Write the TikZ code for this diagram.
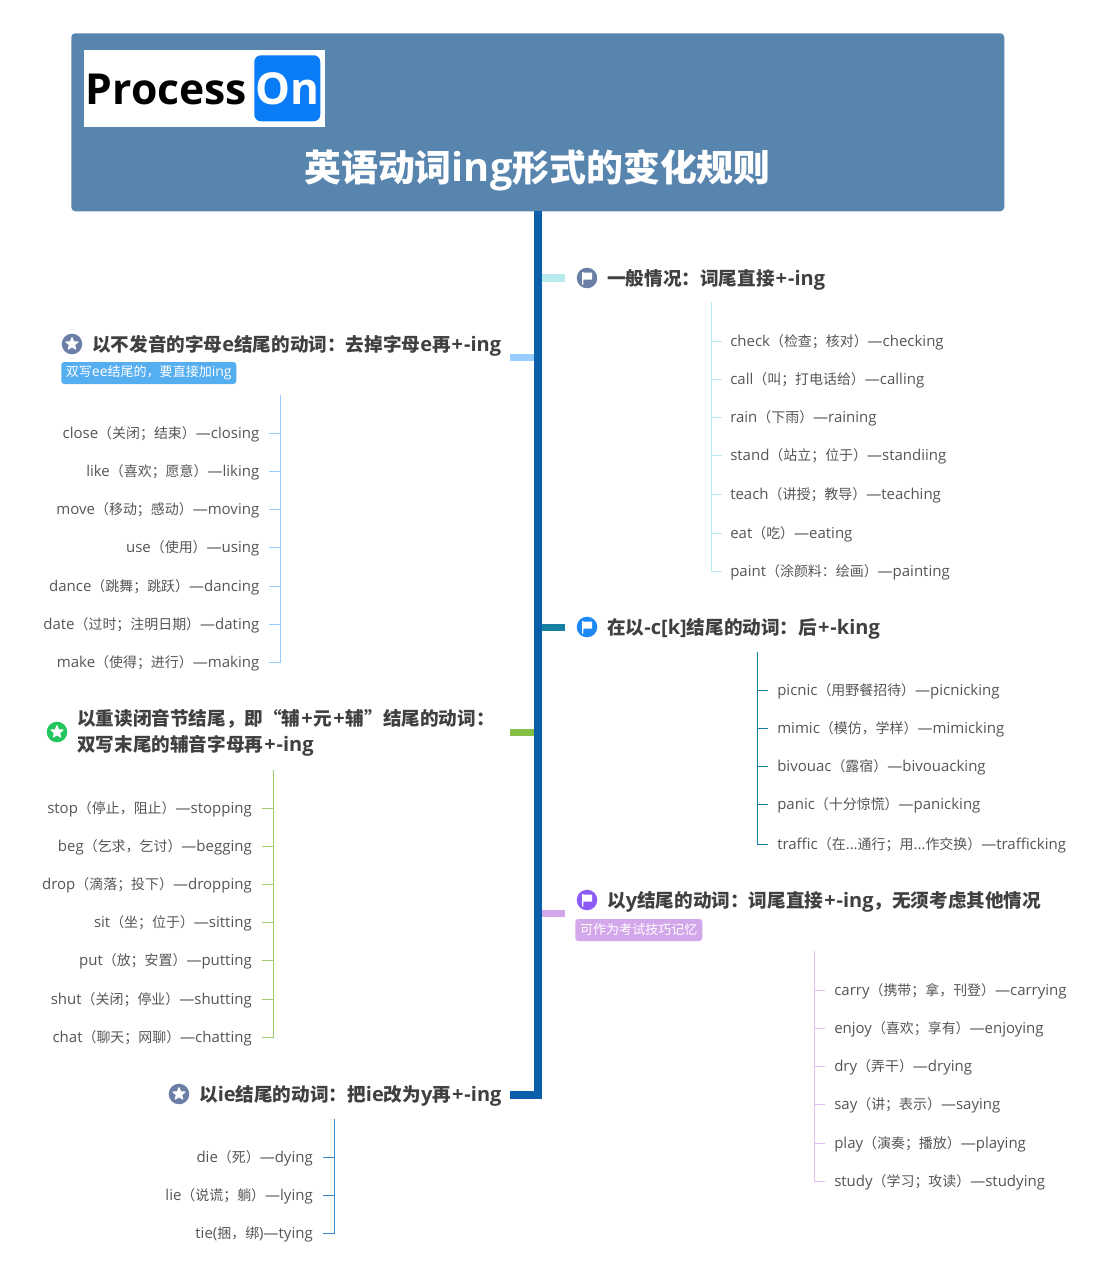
\documentclass[tikz,border=0pt]{standalone}
\usepackage{fontspec}
\usetikzlibrary{shapes.geometric}
\setmainfont{Open Sans}
\newfontfamily\cjkfont[Scale=0.93]{Noto Sans CJK SC}
\newcommand{\Z}[1]{{\cjkfont #1}}
\newcommand{\Pl}{\kern0.75pt+\kern0.75pt}
\definecolor{headblue}{HTML}{5785AE}
\definecolor{trunkblue}{HTML}{0B5EAA}
\definecolor{logoblue}{HTML}{0A7CF5}
\definecolor{cCyan}{HTML}{B8EBEE}
\definecolor{cTeal}{HTML}{1580A0}
\definecolor{cPurple}{HTML}{D3A8EA}
\definecolor{cPurpleL}{HTML}{E3BEF7}
\definecolor{cSky}{HTML}{99CCFF}
\definecolor{cGreen}{HTML}{86BF46}
\definecolor{cGreenL}{HTML}{A0CE6C}
\definecolor{cLeafBlue}{HTML}{3D8BCB}
\definecolor{cTagBlue}{HTML}{55AEF0}
\definecolor{iconSlate}{HTML}{6B7FA6}
\definecolor{iconBlue}{HTML}{1E88F5}
\definecolor{iconViolet}{HTML}{8B5CF6}
\definecolor{iconGreen}{HTML}{22C55E}
\definecolor{topicText}{HTML}{404040}
\definecolor{leafText}{HTML}{555555}
\tikzset{
  topic/.style={inner sep=0pt,anchor=west,text=topicText,font=\fontsize{15pt}{19.5pt}\selectfont\bfseries,align=left},
  leafbase/.style={inner sep=0pt,text=leafText,font=\fontsize{11.25pt}{14pt}\selectfont,text height=10.8pt,text depth=2pt},
  leafR/.style={leafbase,anchor=west},
  leafL/.style={leafbase,anchor=east},
  tag/.style={inner sep=0pt,rounded corners=2.2pt,text=white,font=\fontsize{10.5pt}{13pt}\selectfont,anchor=west,minimum height=16.5pt,align=center},
  icon/.style={circle,inner sep=0pt,minimum size=15.4pt},
  stub/.style={line width=5.5pt},
  brk/.style={line width=0.7pt},
  whitestar/.style={star,star points=5,star point ratio=2.3,fill=white,draw=white,line width=0.8pt,line join=round,inner sep=0pt,minimum size=9.5pt}
}
\newcommand{\flagicon}[4]{%
  \node[icon,fill=#4] (#1) at (#2,#3) {};
  \fill[white] ([shift={(-5,-6)}]#1.center) -- ++(1.3,0) -- ++(0,0.6) -- ++(8.7,0) -- ++(0,7) -- ++(-8.7,0) -- ++(0,4.9) -- ++(-1.3,0) -- cycle;
}
\newcommand{\staricon}[4]{%
  \node[icon,fill=#4] (#1) at (#2,#3) {};
  \node[whitestar] (#1s) at (#1.center) {};
}
\newcommand{\rleaf}[4]{%
  \node[leafR] (#1) at (#2,#3) {#4};
}
\newcommand{\lleaf}[4]{%
  \node[leafL] (#1) at (#2,#3) {#4};
}
\begin{document}
\begin{tikzpicture}[x=0.75pt,y=-0.75pt]
\useasboundingbox (0,0) rectangle (1108,1280);
\node[fill=headblue,rounded corners=3pt,minimum width=699.75pt,minimum height=133.5pt,inner sep=0pt,anchor=north west] (head) at (71,33) {};
\node[fill=white,minimum width=180.75pt,minimum height=57.75pt,inner sep=0pt,anchor=north west] (logo) at (84,50) {};
\node[fill=logoblue,rounded corners=5pt,minimum width=49.5pt,minimum height=49.5pt,inner sep=0pt,anchor=north west] (logoOn) at (254,55) {};
\node[inner sep=0pt,font=\fontsize{32pt}{32pt}\selectfont\bfseries,text=black,anchor=base west] (proc) at (85.5,105) {Process};
\node[inner sep=0pt,font=\fontsize{33pt}{33pt}\selectfont\bfseries,text=white,anchor=base] (on) at (287.5,105) {On};
\node[inner sep=0pt,font=\fontsize{29.75pt}{30pt}\selectfont\bfseries,text=white,anchor=base] (title) at (537.5,182) {\Z{英语动词}ing\Z{形式的变化规则}};
\coordinate (tTop) at (538,211);
\coordinate (tBot) at (538,1095);
\coordinate (e1) at (565,278);
\coordinate (e2) at (565,627.5);
\coordinate (e3) at (565,913.5);
\coordinate (e4) at (510,357.5);
\coordinate (e5) at (510,732.5);
\coordinate (e6) at (510,1095);
\draw[stub,cCyan] (tTop |- e1) -- (e1);
\draw[stub,cTeal] (tTop |- e2) -- (e2);
\draw[stub,cPurple] (tTop |- e3) -- (e3);
\draw[stub,cSky] (tTop |- e4) -- (e4);
\draw[stub,cGreen] (tTop |- e5) -- (e5);
\draw[line width=6pt,trunkblue,line join=miter] (tTop) -- (tBot) -- (e6);
\flagicon{i1}{587}{278}{iconSlate}
\node[topic] (t1) at (607,279.5) {\Z{一般情况：词尾直接}\Pl-ing};
\flagicon{i2}{587}{627}{iconBlue}
\node[topic] (t2) at (607,628.5) {\Z{在以}-c[k]\Z{结尾的动词：后}\Pl-king};
\flagicon{i3}{587}{900}{iconViolet}
\node[topic] (t3) at (607,901.5) {\Z{以}y\Z{结尾的动词：词尾直接}\Pl-ing\Z{，无须考虑其他情况}};
\node[tag,fill=cPurple,minimum width=95.25pt] (g3) at (575,930) {\Z{可作为考试技巧记忆}};
\staricon{i4}{72}{344}{iconSlate}
\node[topic] (t4) at (92,345.5) {\Z{以不发音的字母}e\Z{结尾的动词：去掉字母}e\Z{再}\Pl-ing};
\node[tag,fill=cTagBlue,minimum width=131.25pt] (g4) at (61,373) {\Z{双写}ee\Z{结尾的，要直接加}ing};
\staricon{i5}{57}{732}{iconGreen}
\node[topic] (t5) at (77,733) {\Z{以重读闭音节结尾，即“辅}\Pl\Z{元}\Pl\Z{辅”结尾的动词：}\\\Z{双写末尾的辅音字母再}\Pl-ing};
\staricon{i6}{179}{1094}{iconSlate}
\node[topic] (t6) at (199,1095.5) {\Z{以}ie\Z{结尾的动词：把}ie\Z{改为}y\Z{再}\Pl-ing};
\coordinate (b1) at (711,302);
\rleaf{a1}{730}{341}{check\Z{（检查；核对）}—checking}
\rleaf{a2}{730}{379}{call\Z{（叫；打电话给）}—calling}
\rleaf{a3}{730}{417}{rain\Z{（下雨）}—raining}
\rleaf{a4}{730}{455}{stand\Z{（站立；位于）}—standiing}
\rleaf{a5}{730}{494}{teach\Z{（讲授；教导）}—teaching}
\rleaf{a6}{730}{533}{eat\Z{（吃）}—eating}
\rleaf{a7}{730}{571}{paint\Z{（涂颜料：绘画）}—painting}
\draw[brk,cCyan] (b1) -- (b1 |- a7) -- ++(11,0);
\foreach \n in {a1,a2,a3,a4,a5,a6} \draw[brk,cCyan] (b1 |- \n) -- ++(11,0);
\coordinate (b2) at (757,652);
\rleaf{c1}{777}{690}{picnic\Z{（用野餐招待）}—picnicking}
\rleaf{c2}{777}{728}{mimic\Z{（模仿，学样）}—mimicking}
\rleaf{c3}{777}{766}{bivouac\Z{（露宿）}—bivouacking}
\rleaf{c4}{777}{804}{panic\Z{（十分惊慌）}—panicking}
\rleaf{c5}{777}{844}{traffic\Z{（在}...\Z{通行；用}...\Z{作交换）}—trafficking}
\draw[brk,cTeal] (b2) -- (b2 |- c5) -- ++(11,0);
\foreach \n in {c1,c2,c3,c4} \draw[brk,cTeal] (b2 |- \n) -- ++(11,0);
\coordinate (b3) at (814,951);
\rleaf{d1}{834}{990}{carry\Z{（携带；拿，刊登）}—carrying}
\rleaf{d2}{834}{1028}{enjoy\Z{（喜欢；享有）}—enjoying}
\rleaf{d3}{834}{1066}{dry\Z{（弄干）}—drying}
\rleaf{d4}{834}{1104}{say\Z{（讲；表示）}—saying}
\rleaf{d5}{834}{1143}{play\Z{（演奏；播放）}—playing}
\rleaf{d6}{834}{1181}{study\Z{（学习；攻读）}—studying}
\draw[brk,cPurpleL] (b3) -- (b3 |- d6) -- ++(11,0);
\foreach \n in {d1,d2,d3,d4,d5} \draw[brk,cPurpleL] (b3 |- \n) -- ++(11,0);
\coordinate (b4) at (280,395);
\lleaf{f1}{259.5}{433}{close\Z{（关闭；结束）}—closing}
\lleaf{f2}{259.5}{471}{like\Z{（喜欢；愿意）}—liking}
\lleaf{f3}{259.5}{509}{move\Z{（移动；感动）}—moving}
\lleaf{f4}{259.5}{547}{use\Z{（使用）}—using}
\lleaf{f5}{259.5}{586}{dance\Z{（跳舞；跳跃）}—dancing}
\lleaf{f6}{259.5}{624}{date\Z{（过时；注明日期）}—dating}
\lleaf{f7}{259.5}{662}{make\Z{（使得；进行）}—making}
\draw[brk,cSky] (b4) -- (b4 |- f7) -- ++(-11,0);
\foreach \n in {f1,f2,f3,f4,f5,f6} \draw[brk,cSky] (b4 |- \n) -- ++(-11,0);
\coordinate (b5) at (273,770);
\lleaf{h1}{252}{808}{stop\Z{（停止，阻止）}—stopping}
\lleaf{h2}{252}{846}{beg\Z{（乞求，乞讨）}—begging}
\lleaf{h3}{252}{884}{drop\Z{（滴落；投下）}—dropping}
\lleaf{h4}{252}{922}{sit\Z{（坐；位于）}—sitting}
\lleaf{h5}{252}{960}{put\Z{（放；安置）}—putting}
\lleaf{h6}{252}{999}{shut\Z{（关闭；停业）}—shutting}
\lleaf{h7}{252}{1037}{chat\Z{（聊天；网聊）}—chatting}
\draw[brk,cGreenL] (b5) -- (b5 |- h7) -- ++(-11,0);
\foreach \n in {h1,h2,h3,h4,h5,h6} \draw[brk,cGreenL] (b5 |- \n) -- ++(-11,0);
\coordinate (b6) at (334,1119);
\lleaf{k1}{313}{1157}{die\Z{（死）}—dying}
\lleaf{k2}{313}{1195}{lie\Z{（说谎；躺）}—lying}
\lleaf{k3}{313}{1233}{tie(\Z{捆，绑})—tying}
\draw[brk,cLeafBlue] (b6) -- (b6 |- k3) -- ++(-11,0);
\foreach \n in {k1,k2} \draw[brk,cLeafBlue] (b6 |- \n) -- ++(-11,0);
\end{tikzpicture}
\end{document}
